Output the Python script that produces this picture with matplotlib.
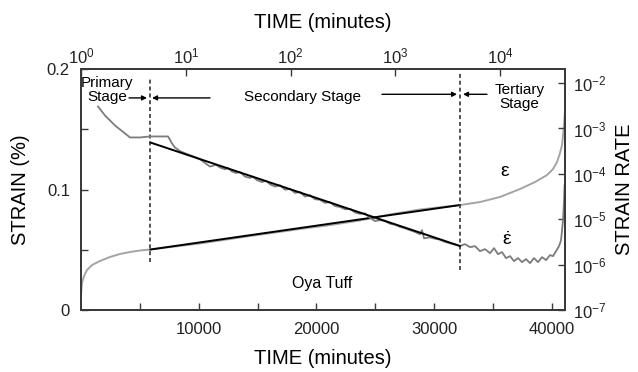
import numpy as np
import matplotlib
matplotlib.use('Agg')
import matplotlib.pyplot as plt
from matplotlib.ticker import FixedLocator, NullLocator, LogLocator

plt.rcParams['font.family'] = ['Liberation Sans', 'DejaVu Sans']
plt.rcParams['mathtext.fontset'] = 'custom'
plt.rcParams['mathtext.rm'] = 'Liberation Sans'
plt.rcParams['mathtext.it'] = 'Liberation Sans:italic'

# --- Data ---
# strain curve (%), time in minutes
strain_t = [0, 85, 255, 510, 935, 1614, 2464, 3313, 4163, 5013, 5862,
            10110, 14358, 18606, 21155, 23704, 26253, 28802, 32200,
            33900, 35600, 37300, 38573, 39593, 40103, 40443, 40698,
            40868, 40953, 41038, 41100]
strain_v = [0.013, 0.0224, 0.0282, 0.0332, 0.0373, 0.0407, 0.0440, 0.0465,
            0.0481, 0.0494, 0.0502, 0.0552, 0.0614, 0.0672, 0.0705, 0.0743,
            0.0793, 0.0834, 0.0871, 0.0896, 0.0938, 0.1004, 0.1062, 0.1120,
            0.1170, 0.1228, 0.1303, 0.1369, 0.1452, 0.1535, 0.1627]

# strain rate curve, log10 of rate
rate_t = [1444, 2039, 2889, 3738, 4163, 5013, 5862, 6712, 7392, 7562,
          7730, 7986, 8411, 9006, 9685, 10110, 10535, 10960, 11215, 11470,
          11810, 12235, 12490, 12830, 13169, 13509, 13934, 14358, 14613, 14953,
          15378, 15718, 16058, 16482, 16907, 17332, 17757, 18181, 18606, 19031,
          19456, 19881, 20306, 20730, 21155, 21580, 22005, 22430, 22855, 23279,
          23704, 24129, 24554, 24979, 25403, 25828, 26253, 26678, 27102, 27527,
          27952, 28377, 28802, 28972, 29142, 29651, 30076, 30501, 30926, 31351,
          31776, 32200, 32625, 33050, 33475, 33900, 34325, 34749, 35089, 35429,
          35769, 36109, 36449, 36789, 37129, 37469, 37809, 38148, 38488, 38828,
          39168, 39508, 39848, 40103, 40358, 40613, 40783, 40868, 40953, 41038,
          41080]
rate_log = [-2.516, -2.714, -2.934, -3.110, -3.198, -3.198, -3.176, -3.176, -3.176, -3.25,
            -3.33, -3.42, -3.50, -3.565, -3.63, -3.68, -3.76, -3.84, -3.82, -3.80,
            -3.86, -3.90, -3.87, -3.95, -3.98, -3.96, -4.06, -4.09, -4.06, -4.14,
            -4.18, -4.15, -4.23, -4.28, -4.25, -4.35, -4.33, -4.42, -4.40, -4.50,
            -4.47, -4.56, -4.57, -4.64, -4.62, -4.71, -4.73, -4.78, -4.77, -4.85,
            -4.88, -4.87, -4.97, -5.04, -5.02, -5.04, -5.10, -5.12, -5.17, -5.20,
            -5.24, -5.28, -5.33, -5.24, -5.42, -5.40, -5.43, -5.45, -5.50, -5.53,
            -5.56, -5.59, -5.549, -5.615, -5.593, -5.703, -5.659, -5.747, -5.637, -5.769,
            -5.725, -5.857, -5.813, -5.923, -5.857, -5.945, -5.879, -5.967, -5.857, -5.945,
            -5.835, -5.901, -5.791, -5.813, -5.703, -5.593, -5.462, -5.242, -5.022, -4.582,
            -4.253]

# secondary stage fits
fit_t = [5900, 32200]
fit_strain = [0.0502, 0.0871]
fit_rate_log = [-3.31, -5.59]

stage_bounds = [5862, 32200]

GRAY_S = '#a4a4a4'
GRAY_R = '#7c7c7c'
AXC = '#3a3a3a'

fig = plt.figure(figsize=(6.38, 3.72), dpi=100)
ax = fig.add_axes([81 / 638, 62 / 372, 484 / 638, 241 / 372])
ax_r = ax.twinx()
ax_top = ax.twiny()

# strain (left axis)
ax.plot(strain_t, strain_v, color=GRAY_S, lw=1.4)
ax.plot(fit_t, fit_strain, color='black', lw=1.4)

# strain rate (right axis, log)
ax_r.plot(rate_t, 10.0 ** np.array(rate_log), color=GRAY_R, lw=1.3)
ax_r.plot(fit_t, 10.0 ** np.array(fit_rate_log), color='black', lw=1.4)
ax_r.set_yscale('log')
ax_r.set_ylim(1e-7, 10 ** -1.69)

ax.set_xlim(0, 41120)
ax.set_ylim(0, 0.2)

# stage boundaries
ax.axvline(stage_bounds[0], ymin=0.2, ymax=0.967, color='#444444', lw=1.3, ls=(0, (2.2, 1.6)))
ax.axvline(stage_bounds[1], ymin=0.166, ymax=0.983, color='#444444', lw=1.3, ls=(0, (2.2, 1.6)))

# top log time axis
ax_top.set_xscale('log')
ax_top.set_xlim(1, 41600)
ax_top.xaxis.set_major_locator(LogLocator(base=10, numticks=10))
ax_top.xaxis.set_minor_locator(NullLocator())

# ticks
ax.xaxis.set_major_locator(FixedLocator([10000, 20000, 30000, 40000]))
ax.xaxis.set_minor_locator(FixedLocator([5000, 15000, 25000, 35000]))
ax.set_yticks([0, 0.1, 0.2])
ax.set_yticklabels(['0', '0.1', '0.2'])
ax.yaxis.set_minor_locator(FixedLocator([0.05, 0.15]))
ax_r.yaxis.set_major_locator(LogLocator(base=10, numticks=10))
ax_r.yaxis.set_minor_locator(NullLocator())

for a in (ax, ax_r, ax_top):
    a.tick_params(which='both', direction='in', length=5, width=1.0,
                  color=AXC, labelsize=12, labelcolor='#222222')
    for sp in a.spines.values():
        sp.set_color(AXC)
        sp.set_linewidth(1.3)
ax.tick_params(axis='x', pad=9)
ax.tick_params(axis='y', pad=8)
ax_r.tick_params(axis='y', pad=6)
ax_top.tick_params(axis='x', pad=2)

ax.set_xlabel('TIME (minutes)', fontsize=14.5, labelpad=8)
ax_top.set_xlabel('TIME (minutes)', fontsize=14.5, labelpad=13)
ax.set_ylabel('STRAIN (%)', fontsize=14.5, labelpad=12)
ax_r.set_ylabel('STRAIN RATE', fontsize=14.5, labelpad=6)

# annotations
ax.text(2209, 0.1825, 'Primary\nStage', ha='center', va='center', fontsize=11, linespacing=1.0)
ax.text(18776, 0.1768, 'Secondary Stage', ha='center', va='center', fontsize=11)
ax.text(37255, 0.1764, 'Tertiary\nStage', ha='center', va='center', fontsize=11, linespacing=1.0)
ax.text(20476, 0.0224, 'Oya Tuff', ha='center', va='center', fontsize=11.5)
ax.text(36030, 0.1146, r'$\mathrm{\varepsilon}$', ha='center', va='center', fontsize=14)
ax.text(36200, 0.0580, r'$\dot{\mathrm{\varepsilon}}$', ha='center', va='center', fontsize=14)

arrow_kw = dict(arrowstyle='-|>', color='black', lw=1.0, mutation_scale=7,
                shrinkA=0, shrinkB=0)
ax.annotate('', xy=(5607, 0.176), xytext=(4078, 0.176), arrowprops=arrow_kw)
ax.annotate('', xy=(6032, 0.176), xytext=(10960, 0.176), arrowprops=arrow_kw)
ax.annotate('', xy=(31946, 0.179), xytext=(25573, 0.179), arrowprops=arrow_kw)
ax.annotate('', xy=(32455, 0.179), xytext=(34494, 0.179), arrowprops=arrow_kw)

fig.savefig('out.png', dpi=100)
